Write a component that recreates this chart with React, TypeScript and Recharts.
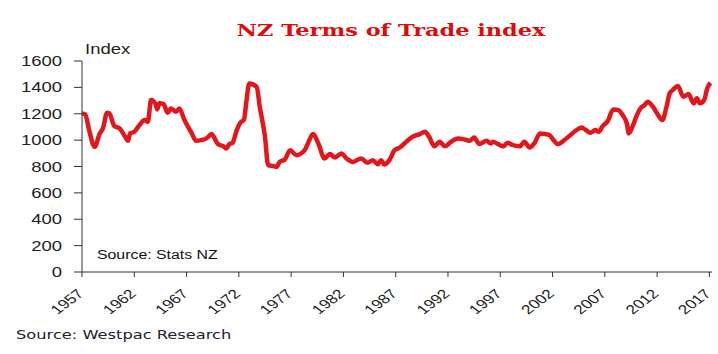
import { Line, LineChart, XAxis, YAxis } from 'recharts'

const years = [
  1957.0, 1957.3, 1957.7, 1958.2, 1958.7, 1959.0, 1959.4, 1959.6, 1960.1, 1960.6,
  1961.1, 1961.4, 1961.6, 1962.0, 1962.5, 1963.0, 1963.3, 1963.6, 1964.0, 1964.2,
  1964.4, 1964.8, 1965.2, 1965.5, 1966.0, 1966.3, 1966.8, 1967.5, 1967.9, 1968.4,
  1968.9, 1969.4, 1969.6, 1970.0, 1970.5, 1970.8, 1971.1, 1971.4, 1971.8, 1972.1,
  1972.5, 1972.7, 1973.0, 1973.7, 1974.0, 1974.5, 1974.8, 1975.3, 1975.6, 1975.9,
  1976.4, 1976.9, 1977.5, 1978.3, 1978.6, 1979.1, 1979.6, 1980.2, 1980.7, 1981.2,
  1981.8, 1982.3, 1982.9, 1983.7, 1984.3, 1984.8, 1985.3, 1985.6, 1985.9, 1986.4,
  1986.9, 1987.4, 1988.0, 1988.6, 1989.3, 1989.8, 1990.2, 1990.7, 1991.2, 1991.7,
  1992.3, 1992.9, 1993.6, 1994.1, 1994.5, 1995.0, 1995.7, 1996.1, 1996.3, 1996.8,
  1997.3, 1997.7, 1998.2, 1998.9, 1999.3, 1999.8, 2000.3, 2000.8, 2001.3, 2001.7,
  2002.1, 2002.5, 2003.2, 2003.7, 2004.2, 2004.8, 2005.1, 2005.6, 2006.1, 2006.4,
  2006.8, 2007.3, 2007.8, 2008.3, 2008.7, 2009.1, 2009.3, 2009.7, 2010.0, 2010.4,
  2010.8, 2011.1, 2011.6, 2012.1, 2012.5, 2012.9, 2013.2, 2013.5, 2014.0, 2014.5,
  2015.0, 2015.5, 2015.8, 2016.1, 2016.5, 2016.8, 2017.1,
]

const totIndex = [
  1203, 1195, 1070, 949, 1051, 1089, 1207, 1203, 1106, 1089,
  1030, 995, 1051, 1063, 1114, 1152, 1139, 1304, 1279, 1233,
  1279, 1273, 1207, 1240, 1215, 1240, 1152, 1051, 995, 1000,
  1013, 1046, 1025, 970, 954, 937, 970, 980, 1076, 1127,
  1157, 1279, 1430, 1405, 1253, 1025, 810, 803, 797, 835,
  853, 924, 886, 924, 975, 1046, 975, 861, 894, 869,
  899, 861, 835, 861, 828, 848, 818, 848, 815, 848,
  924, 944, 987, 1025, 1046, 1063, 1025, 954, 987, 954,
  987, 1013, 1005, 995, 1020, 970, 995, 975, 987, 970,
  954, 980, 962, 954, 987, 944, 980, 1051, 1046, 1038,
  1000, 970, 1005, 1038, 1071, 1096, 1081, 1056, 1076, 1063,
  1106, 1147, 1233, 1228, 1190, 1127, 1051, 1114, 1177, 1240,
  1266, 1291, 1253, 1190, 1152, 1253, 1354, 1380, 1410, 1329,
  1349, 1279, 1317, 1279, 1304, 1393, 1435,
]

const xTicks = [1957, 1962, 1967, 1972, 1977, 1982, 1987, 1992, 1997, 2002, 2007, 2012, 2017]
const yTicks = [0, 200, 400, 600, 800, 1000, 1200, 1400, 1600]

const data = years.map((year, i) => ({ year, tot: totIndex[i] }))

// the original image is stretched sideways, so texts get a horizontal scale
const stretch = 1.32
const sans = '"Liberation Sans", Arial, sans-serif'

function YearTick(props: any) {
  const { x, y, payload } = props
  return (
    <text
      transform={`translate(${x - 2},${y + 12}) scale(${stretch},1) rotate(-45)`}
      textAnchor="end"
      dy={5}
      fontSize={13}
      fill="#222"
      fontFamily={sans}
    >
      {payload.value}
    </text>
  )
}

function IndexTick(props: any) {
  const { x, y, payload } = props
  return (
    <text
      transform={`translate(${x},${y}) scale(${stretch},1)`}
      textAnchor="end"
      dy={5}
      fontSize={14}
      fill="#222"
      fontFamily={sans}
    >
      {payload.value}
    </text>
  )
}

const stretched = { transform: `scaleX(${stretch})`, transformOrigin: 'left top', whiteSpace: 'nowrap' as const }

export default function App() {
  return (
    <div style={{ position: 'absolute', left: 0, top: 0, width: 718, height: 354, background: '#fff' }}>
      <div style={{ position: 'absolute', left: 391, top: 20, transform: `translateX(-50%) scaleX(${stretch})`, whiteSpace: 'nowrap', color: '#e00a0a', fontFamily: '"DejaVu Serif", serif', fontWeight: 'bold', fontSize: 17 }}>
        NZ Terms of Trade index
      </div>
      <div style={{ position: 'absolute', left: 85, top: 41, fontFamily: sans, fontSize: 14, color: '#222', ...stretched }}>Index</div>
      <LineChart width={718} height={354} data={data} margin={{ top: 61, right: 6, bottom: 0, left: 0 }}>
        <XAxis
          dataKey="year"
          type="number"
          domain={[1957, 2017.25]}
          ticks={xTicks}
          interval={0}
          tick={<YearTick />}
          tickSize={5}
          stroke="#333"
          height={82}
        />
        <YAxis
          domain={[0, 1600]}
          ticks={yTicks}
          interval={0}
          width={82}
          tickSize={8}
          tickMargin={12}
          stroke="#333"
          tick={<IndexTick />}
        />
        <Line
          type="monotone"
          dataKey="tot"
          stroke="#e3161b"
          strokeWidth={4.5}
          strokeLinejoin="round"
          dot={false}
          isAnimationActive={false}
        />
      </LineChart>
      <div style={{ position: 'absolute', left: 97, top: 248, fontFamily: sans, fontSize: 12, color: '#111', ...stretched }}>Source: Stats NZ</div>
      <div style={{ position: 'absolute', left: 16, top: 327, fontFamily: '"DejaVu Sans", Verdana, sans-serif', fontSize: 13, color: '#223', transform: 'scaleX(1.25)', transformOrigin: 'left top', whiteSpace: 'nowrap' }}>
        Source: Westpac Research
      </div>
    </div>
  )
}
